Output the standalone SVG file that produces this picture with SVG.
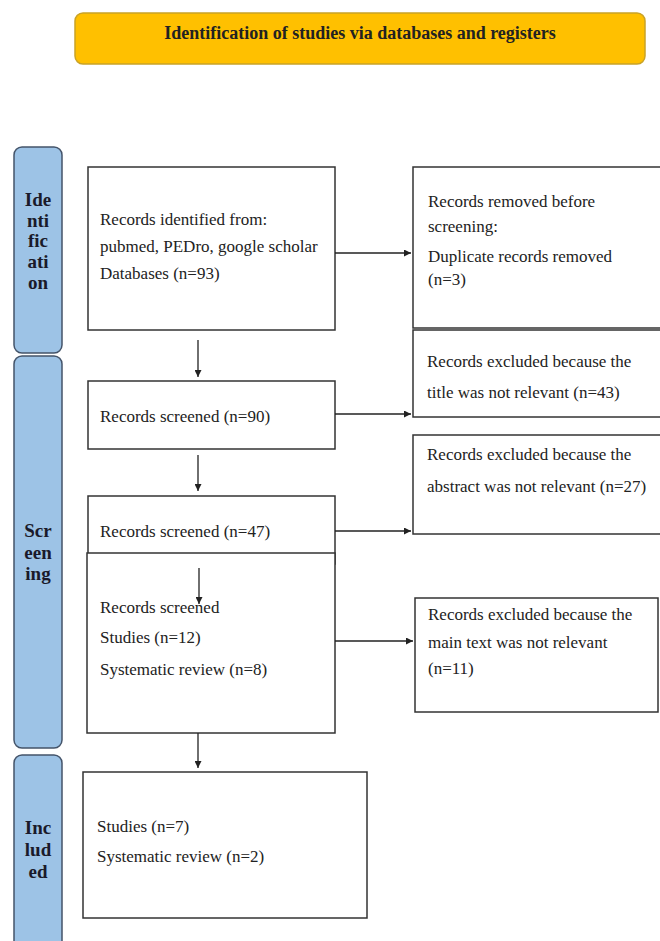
<svg xmlns="http://www.w3.org/2000/svg" width="660" height="941" viewBox="0 0 660 941">
<style>
.box{fill:#fff;stroke:#333;stroke-width:1.5}
.side{fill:#9DC3E6;stroke:#44546A;stroke-width:1.5}
.t{font-family:"Liberation Serif","Times New Roman",serif;font-size:17px;fill:#222}
.s{font-family:"Liberation Serif","Times New Roman",serif;font-size:19px;font-weight:bold;fill:#1a1a2a;text-anchor:middle}
.ttl{font-family:"Liberation Serif","Times New Roman",serif;font-size:18px;font-weight:bold;fill:#222;text-anchor:middle}
.c{stroke:#222;stroke-width:1.3;fill:none;marker-end:url(#ah)}
</style>
<defs>
<marker id="ah" viewBox="0 0 10 10" refX="10" refY="5" markerWidth="7" markerHeight="7" markerUnits="userSpaceOnUse" orient="auto">
<path d="M0,0 L10,5 L0,10 z" fill="#222"/>
</marker>
</defs>
<rect width="660" height="941" fill="#fff"/>
<g id="title">
<rect x="75" y="13" width="570" height="51" rx="8" fill="#FFC000" stroke="#C9A227" stroke-width="1.5"/>
<text class="ttl" x="360" y="39">Identification of studies via databases and registers</text>
</g>
<g id="side-identification">
<rect class="side" x="14" y="147" width="48" height="206" rx="8"/>
<text class="s"><tspan x="38" y="206">Ide</tspan><tspan x="38" y="227">nti</tspan><tspan x="38" y="247">fic</tspan><tspan x="38" y="268">ati</tspan><tspan x="38" y="289">on</tspan></text>
</g>
<g id="side-screening">
<rect class="side" x="14" y="356" width="48" height="392" rx="8"/>
<text class="s"><tspan x="38" y="537">Scr</tspan><tspan x="38" y="559">een</tspan><tspan x="38" y="580">ing</tspan></text>
</g>
<g id="side-included">
<rect class="side" x="14" y="755" width="48" height="200" rx="8"/>
<text class="s"><tspan x="38" y="834">Inc</tspan><tspan x="38" y="856">lud</tspan><tspan x="38" y="878">ed</tspan></text>
</g>
<g id="records-identified">
<rect class="box" x="88" y="167" width="247" height="163"/>
<text class="t"><tspan x="100" y="225">Records identified  from:</tspan><tspan x="100" y="252">pubmed, PEDro, google scholar</tspan><tspan x="100" y="279">Databases (n=93)</tspan></text>
</g>
<g id="records-removed">
<rect class="box" x="413" y="167" width="248" height="161"/>
<text class="t"><tspan x="428" y="207">Records removed before</tspan><tspan x="428" y="232">screening:</tspan><tspan x="428" y="262">Duplicate records  removed</tspan><tspan x="428" y="285">(n=3)</tspan></text>
</g>
<g id="excluded-title">
<rect class="box" x="413" y="330" width="248" height="87"/>
<text class="t"><tspan x="427" y="367">Records excluded because the</tspan><tspan x="427" y="398">title was not relevant  (n=43)</tspan></text>
</g>
<g id="excluded-abstract">
<rect class="box" x="413" y="435" width="248" height="99"/>
<text class="t"><tspan x="427" y="460">Records excluded because the</tspan><tspan x="427" y="492">abstract was not relevant (n=27)</tspan></text>
</g>
<g id="screened-90">
<rect class="box" x="88" y="381" width="247" height="68"/>
<text class="t" x="100" y="422">Records screened (n=90)</text>
</g>
<g id="screened-47">
<rect class="box" x="88" y="496" width="247" height="68"/>
<text class="t" x="100" y="537">Records screened (n=47)</text>
</g>
<g id="screened-studies">
<rect class="box" x="87" y="553" width="248" height="180"/>
<text class="t"><tspan x="100" y="613">Records screened</tspan><tspan x="100" y="643">Studies (n=12)</tspan><tspan x="100" y="675">Systematic review  (n=8)</tspan></text>
</g>
<g id="excluded-main">
<rect class="box" x="415" y="598" width="243" height="114"/>
<text class="t"><tspan x="428" y="620">Records excluded because the</tspan><tspan x="428" y="648">main text was not relevant</tspan><tspan x="428" y="674">(n=11)</tspan></text>
</g>
<g id="included">
<rect class="box" x="83" y="772" width="284" height="146"/>
<text class="t"><tspan x="97" y="832">Studies (n=7)</tspan><tspan x="97" y="862">Systematic review  (n=2)</tspan></text>
</g>
<g id="connectors">
<path class="c" d="M335,253 H411"/>
<path class="c" d="M335,414 H411"/>
<path class="c" d="M335,531 H411"/>
<path class="c" d="M335,641 H413"/>
<path class="c" d="M198,340 V377"/>
<path class="c" d="M198,455 V491"/>
<path class="c" d="M199,568 V604"/>
<path class="c" d="M198,733 V768"/>
</g>
</svg>
